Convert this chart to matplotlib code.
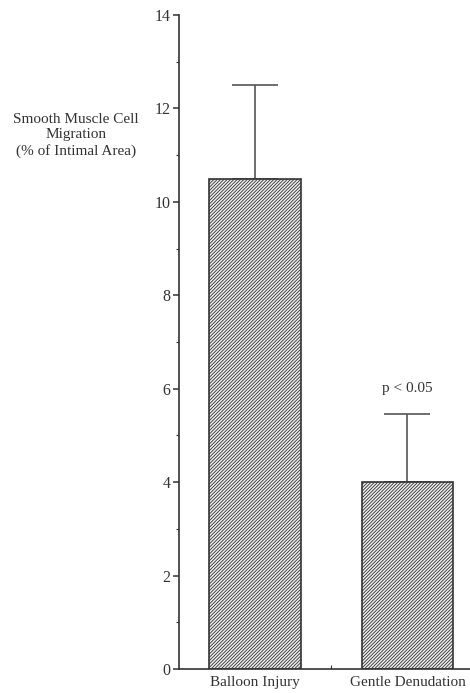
import matplotlib
matplotlib.use('Agg')

import matplotlib.pyplot as plt
import numpy as np

categories = ["Balloon Injury", "Gentle Denudation"]
means = [10.5, 4.0]
errors = [2.0, 1.45]
y_ticks = [0, 2, 4, 6, 8, 10, 12, 14]

plt.rcParams['font.family'] = ['Liberation Serif', 'DejaVu Serif']
plt.rcParams['hatch.linewidth'] = 0.6
plt.rcParams['hatch.color'] = '#555555'
ink = '#333333'

fig = plt.figure(figsize=(4.7, 6.93), dpi=100)
ax = fig.add_axes([0.381, 0.0346, 0.619, 0.9437])

x = np.arange(len(categories))
ax.bar(x, means, width=0.6, color='#ececec', edgecolor=ink, linewidth=1.2,
       hatch='//////////', zorder=2)
ax.errorbar(x, means, yerr=[[0, 0], errors], fmt='none', ecolor='#555555',
            elinewidth=1.2, capsize=16.5, capthick=1.2, zorder=1)

ax.text(1, 6.0, "p < 0.05", ha='center', va='center', fontsize=11, color=ink)

ax.set_xlim(-0.497, 1.41)
ax.set_ylim(0, 14)
ax.set_yticks(y_ticks)
ax.set_yticks(np.arange(1, 14, 2), minor=True)
ax.set_xticks(x)
ax.set_xticklabels(categories)
ax.set_xticks([0.5], minor=True)

ax.spines['top'].set_visible(False)
ax.spines['right'].set_visible(False)
for s in ['left', 'bottom']:
    ax.spines[s].set_color(ink)
    ax.spines[s].set_linewidth(1.2)

ax.tick_params(axis='y', which='major', length=4, width=1.1, pad=2,
               labelsize=11.5, colors=ink)
ax.tick_params(axis='y', which='minor', length=2.5, width=0.8, colors=ink)
ax.tick_params(axis='x', which='major', length=0, pad=5, labelsize=11,
               colors=ink)
ax.tick_params(axis='x', which='minor', length=3, width=0.8,
               direction='in', colors=ink)

fig.text(0.162, 0.837, "Smooth Muscle Cell\nMigration\n(% of Intimal Area)",
         ha='center', va='top', fontsize=11, color=ink, linespacing=1.25)

plt.savefig('out.png', dpi=100)
